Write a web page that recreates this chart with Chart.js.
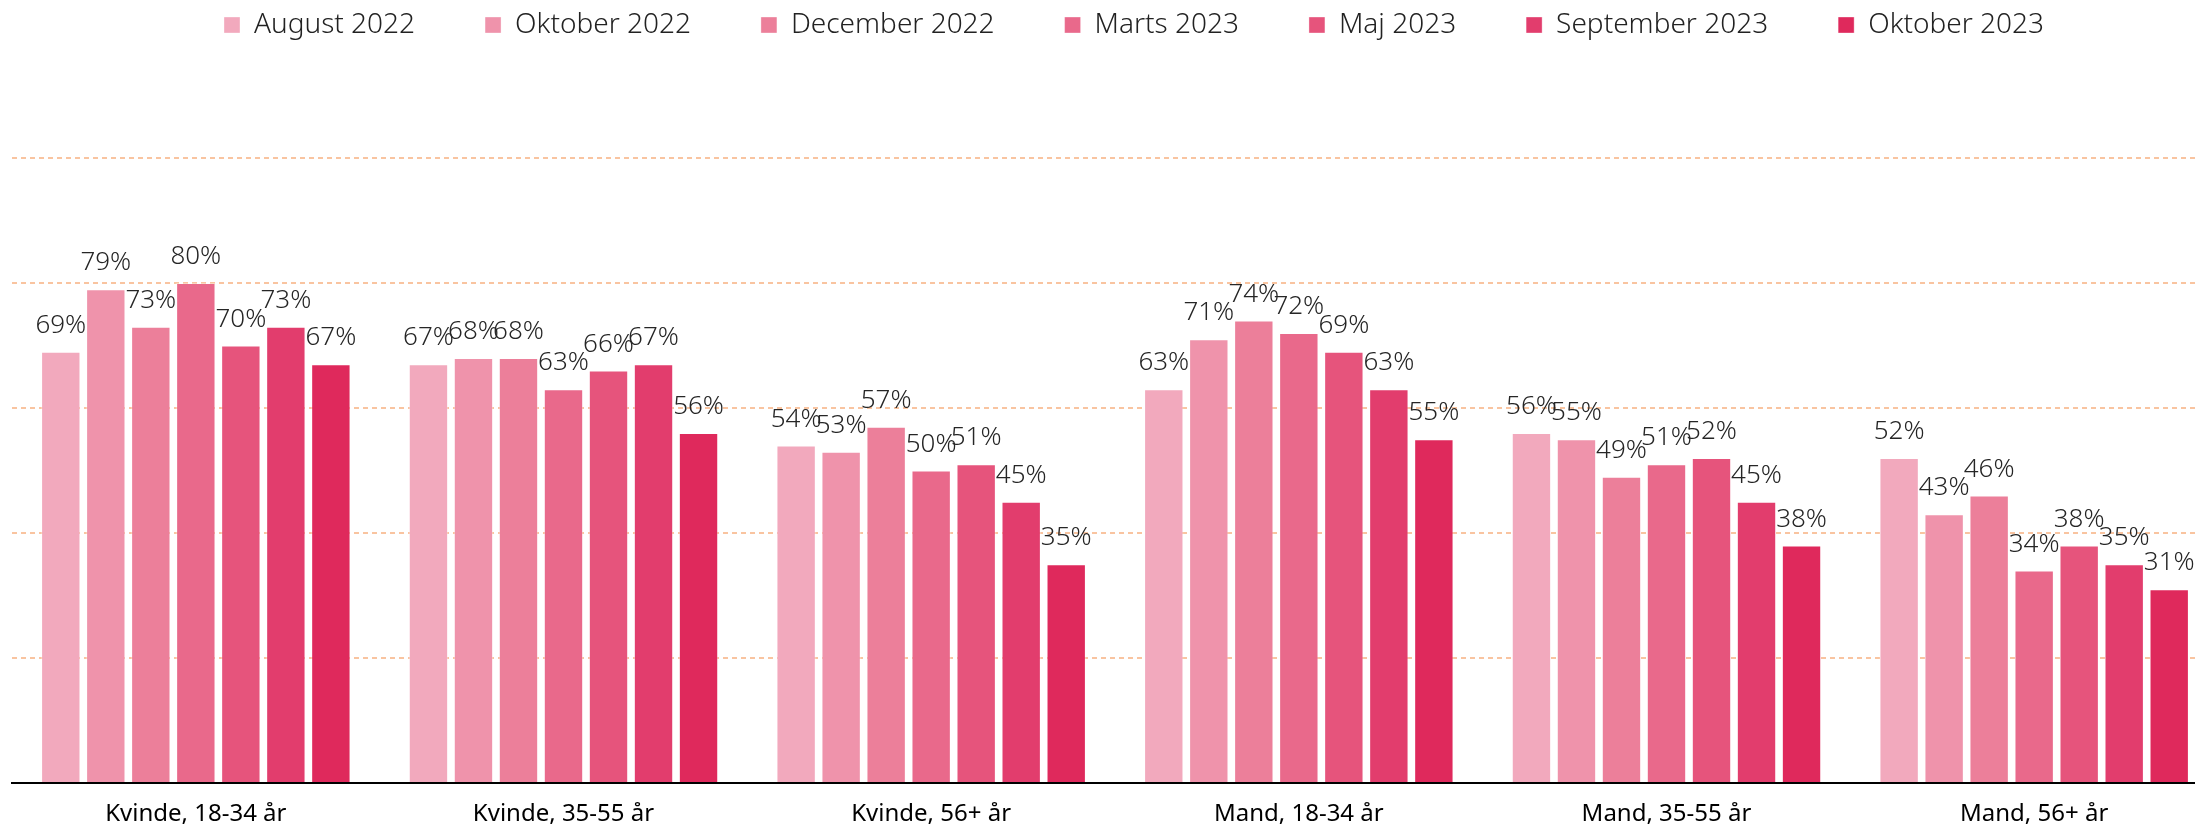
<!DOCTYPE html>
<html>
<head>
<meta charset="utf-8">
<script src="https://cdn.jsdelivr.net/npm/chart.js@4"></script>
<style>
  html, body { margin: 0; padding: 0; background: #fff; overflow: hidden; }
  #wrap { width: 2218px; height: 827px; position: relative; }
</style>
</head>
<body>
<div id="wrap"><canvas id="surveyChart"></canvas></div>
<script>
// grupper langs x-aksen
const categories = ['Kvinde, 18-34 år', 'Kvinde, 35-55 år', 'Kvinde, 56+ år', 'Mand, 18-34 år', 'Mand, 35-55 år', 'Mand, 56+ år'];

// målinger (procent)
const periods = ['August 2022', 'Oktober 2022', 'December 2022', 'Marts 2023', 'Maj 2023', 'September 2023', 'Oktober 2023'];
const aug2022 = [69, 67, 54, 63, 56, 52];
const okt2022 = [79, 68, 53, 71, 55, 43];
const dec2022 = [73, 68, 57, 74, 49, 46];
const mar2023 = [80, 63, 50, 72, 51, 34];
const maj2023 = [70, 66, 51, 69, 52, 38];
const sep2023 = [73, 67, 45, 63, 45, 35];
const okt2023 = [67, 56, 35, 55, 38, 31];
const yTicks = [0, 20, 40, 60, 80, 100];

const seriesValues = [aug2022, okt2022, dec2022, mar2023, maj2023, sep2023, okt2023];
const colors = ['#f2a9bd', '#ef93ab', '#ec7f9a', '#e9698b', '#e6547c', '#e23d6d', '#df295c'];

// legenden: fast højde og lidt forskudt
const legendTweak = {
  id: 'legendTweak',
  beforeInit(chart) {
    const lg = chart.legend;
    const origFit = lg.fit;
    lg.fit = function () {
      origFit.bind(lg)();
      this.height = 158;
    };
    const origDraw = lg.draw;
    lg.draw = function () {
      const c = chart.ctx;
      c.save();
      c.translate(19, -59);
      origDraw.apply(lg, arguments);
      c.restore();
    };
  }
};

// procent-tal over søjlerne
const valueLabels = {
  id: 'valueLabels',
  afterDatasetsDraw(chart) {
    const ctx = chart.ctx;
    ctx.save();
    ctx.font = '300 26px "Noto Sans"';
    ctx.fillStyle = '#262626';
    ctx.textAlign = 'center';
    ctx.textBaseline = 'alphabetic';
    chart.data.datasets.forEach(function (ds, i) {
      const meta = chart.getDatasetMeta(i);
      meta.data.forEach(function (bar, j) {
        ctx.fillText(ds.data[j] + '%', bar.x, bar.y - 19);
      });
    });
    ctx.restore();
  }
};

document.addEventListener('DOMContentLoaded', function () {
  var ctx = document.getElementById('surveyChart').getContext('2d');

  var datasets = periods.map(function (p, i) {
    return {
      label: p,
      data: seriesValues[i],
      backgroundColor: colors[i],
      borderColor: 'rgba(255,255,255,0.35)',
      borderWidth: 1,
      barPercentage: 0.875,
      categoryPercentage: 0.857
    };
  });

  new Chart(ctx, {
    type: 'bar',
    data: { labels: categories, datasets: datasets },
    options: {
      responsive: true,
      maintainAspectRatio: false,
      animation: false,
      layout: { padding: { left: 12, right: 0, top: 0, bottom: 0 } },
      plugins: {
        tooltip: { enabled: false },
        legend: {
          position: 'top',
          labels: {
            boxWidth: 16,
            boxHeight: 16,
            padding: 70,
            color: '#222',
            font: { family: '"Noto Sans"', size: 28, weight: '300' }
          }
        }
      },
      scales: {
        x: {
          grid: { display: false, drawTicks: false },
          border: { display: true, color: '#000', width: 2 },
          afterFit: function (scale) { scale.height = 44; },
          ticks: {
            color: '#000',
            padding: 17,
            font: { family: '"Noto Sans"', size: 24 }
          }
        },
        y: {
          min: 0,
          max: 100,
          display: true,
          afterBuildTicks: function (axis) {
            axis.ticks = yTicks.map(function (v) { return { value: v }; });
          },
          ticks: { display: false },
          border: { display: false, dash: [5, 4] },
          grid: {
            color: function (c) { return c.tick.value === 0 ? 'rgba(0,0,0,0)' : '#f9c4a0'; },
            lineWidth: 2,
            drawTicks: false
          }
        }
      }
    },
    plugins: [legendTweak, valueLabels]
  });
});
</script>
</body>
</html>
